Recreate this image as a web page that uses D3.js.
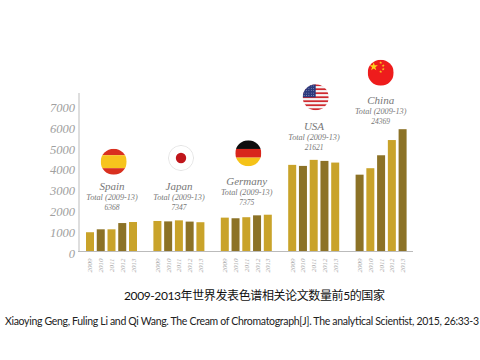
<!DOCTYPE html>
<html>
<head>
<meta charset="utf-8">
<script src="https://cdn.jsdelivr.net/npm/d3@7"></script>
<style>
    html, body { margin: 0; padding: 0; background: #fff; }
    svg { display: block; }
</style>
</head>
<body>
<svg id="chart"></svg>
<script>
const countries = ["Spain", "Japan", "Germany", "USA", "China"];
const years = ["2009", "2010", "2011", "2012", "2013"];
const totals = ["6368", "7347", "7375", "21621", "24369"];
const spain = [1010, 1150, 1150, 1450, 1500];
const japan = [1550, 1530, 1580, 1520, 1490];
const germany = [1710, 1680, 1730, 1820, 1850];
const usa = [4240, 4190, 4480, 4430, 4350];
const china = [3770, 4080, 4700, 5430, 5950];
const yTicks = [0, 1000, 2000, 3000, 4000, 5000, 6000, 7000];
const caption = "2009-2013年世界发表色谱相关论文数量前5的国家";
const source = "Xiaoying Geng, Fuling Li and Qi Wang. The Cream of Chromatograph[J]. The analytical Scientist, 2015, 26:33-3";

const values = [spain, japan, germany, usa, china];

const width = 480, height = 360;
const svg = d3.select("#chart").attr("width", width).attr("height", height);

const light = "#c9a32a", dark = "#8c7226", grey = "#a0a0a0";
const serif = "'Liberation Serif', serif";

const x = d3.scaleBand().domain(countries).range([86, 423]);
const xYear = d3.scaleBand().domain(years).range([0, 51]).paddingInner(0.256);
const y = d3.scaleLinear().domain([0, 7000]).range([253.3, 107.3]);

// the base line sits a little above the scale's zero in the original
const axisY = 251.5;

// bars, colours alternate by year (China starts on the dark one)
countries.forEach((c, i) => {
    svg.append("g")
        .attr("transform", `translate(${x(c)},0)`)
        .selectAll("rect")
        .data(values[i])
        .enter().append("rect")
        .attr("x", (d, j) => xYear(years[j]))
        .attr("y", d => y(d))
        .attr("width", xYear.bandwidth())
        .attr("height", d => axisY - y(d))
        .attr("fill", (d, j) => ((j % 2 === 0) === (c !== "China")) ? light : dark);

    // year labels
    svg.append("g")
        .attr("transform", `translate(${x(c)},0)`)
        .selectAll("text")
        .data(years)
        .enter().append("text")
        .attr("transform", d => `translate(${xYear(d) + xYear.bandwidth() / 2 + 2.5},${axisY + 7}) rotate(-90)`)
        .attr("text-anchor", "end")
        .attr("font-family", serif)
        .attr("font-style", "italic")
        .attr("font-size", 7)
        .attr("fill", "#aaa")
        .text(d => d);
});

// y axis
const yAxis = d3.axisLeft(y).tickValues(yTicks).tickSize(0).tickPadding(4).tickFormat(d3.format("d"));
const gy = svg.append("g").attr("transform", "translate(79,0)").call(yAxis);
gy.select(".domain").remove();
gy.selectAll("text")
    .attr("dy", "0.33em")
    .attr("font-family", serif)
    .attr("font-style", "italic")
    .attr("font-size", 12.5)
    .attr("fill", grey);

svg.append("line").attr("x1", 79).attr("x2", 79).attr("y1", 93).attr("y2", axisY)
    .attr("stroke", "#c8c8c8").attr("stroke-width", 1.2);
svg.append("line").attr("x1", 78).attr("x2", 413).attr("y1", axisY).attr("y2", axisY)
    .attr("stroke", "#bbb").attr("stroke-width", 1);

// flag and label positions per country
const flagAt = { Spain: [113.7, 161.7], Japan: [181, 158], Germany: [248.3, 153.3], USA: [315.7, 97.3], China: [380.7, 72.7] };
const labelAt = { Spain: [112, 190], Japan: [179, 190], Germany: [246.7, 185], USA: [314, 130], China: [380.7, 104] };
const r = 13;

const defs = svg.append("defs");
countries.forEach(c => {
    defs.append("clipPath").attr("id", "clip" + c)
        .append("circle").attr("r", r);
});

function drawStripes(g, stripes) {
    let top = -r;
    stripes.forEach(s => {
        g.append("rect").attr("x", -r).attr("y", top).attr("width", 2 * r).attr("height", s[1] * 2 * r).attr("fill", s[0]);
        top += s[1] * 2 * r;
    });
}

function star(g, cx, cy, size, fill) {
    g.append("path")
        .attr("transform", `translate(${cx},${cy})`)
        .attr("d", d3.symbol().type(d3.symbolStar).size(size))
        .attr("fill", fill);
}

const flags = {
    Spain: g => drawStripes(g, [["#d9301f", 0.25], ["#f7c41d", 0.5], ["#d9301f", 0.25]]),
    Japan: g => {
        g.append("circle").attr("r", r - 0.4).attr("fill", "#fff").attr("stroke", "#ddd").attr("stroke-width", 0.8);
        g.append("circle").attr("r", 5.2).attr("fill", "#c0161b");
    },
    Germany: g => drawStripes(g, [["#0d0d0d", 1 / 3], ["#d8261c", 1 / 3], ["#f5c318", 1 / 3]]),
    USA: g => {
        const stripes = d3.range(13).map(i => [i % 2 ? "#f6f6f6" : "#cf2a2f", 1 / 13]);
        drawStripes(g, stripes);
        g.append("rect").attr("x", -r).attr("y", -r).attr("width", r).attr("height", r).attr("fill", "#2c3a7d");
        d3.range(5).forEach(a => d3.range(5).forEach(b => {
            g.append("circle").attr("cx", -r + 1.4 + a * 2.4).attr("cy", -r + 1.6 + b * 2.4).attr("r", 0.4).attr("fill", "#e8e8f4");
        }));
    },
    China: g => {
        g.append("rect").attr("x", -r).attr("y", -r).attr("width", 2 * r).attr("height", 2 * r).attr("fill", "#ee1c1c");
        star(g, -7, -6, 22, "#fbd11c");
        star(g, 0, -10, 3, "#fbd11c");
        star(g, 2.5, -7, 3, "#fbd11c");
        star(g, 2.5, -3.5, 3, "#fbd11c");
        star(g, 0, -1, 3, "#fbd11c");
    }
};

countries.forEach((c, i) => {
    const g = svg.append("g")
        .attr("transform", `translate(${flagAt[c][0]},${flagAt[c][1]})`)
        .attr("clip-path", `url(#clip${c})`);
    flags[c](g);

    const label = svg.append("g")
        .attr("transform", `translate(${labelAt[c][0]},${labelAt[c][1]})`)
        .attr("text-anchor", "middle")
        .attr("font-family", serif)
        .attr("font-style", "italic")
        .attr("fill", "#777");
    label.append("text").attr("font-size", 11).text(c);
    label.append("text").attr("y", 10).attr("font-size", 8.2).text("Total (2009-13)");
    label.append("text").attr("y", 20).attr("font-size", 7.5).text(totals[i]);
});

// caption and source under the chart
svg.append("text")
    .attr("x", 124).attr("y", 300)
    .attr("font-family", "Lato, 'Noto Sans CJK SC', sans-serif")
    .attr("font-size", 12)
    .attr("fill", "#111")
    .attr("textLength", 261)
    .text(caption);

svg.append("text")
    .attr("x", 5).attr("y", 325)
    .attr("font-family", "Lato, sans-serif")
    .attr("font-size", 10.5)
    .attr("fill", "#222")
    .attr("textLength", 474)
    .text(source);
</script>
</body>
</html>
